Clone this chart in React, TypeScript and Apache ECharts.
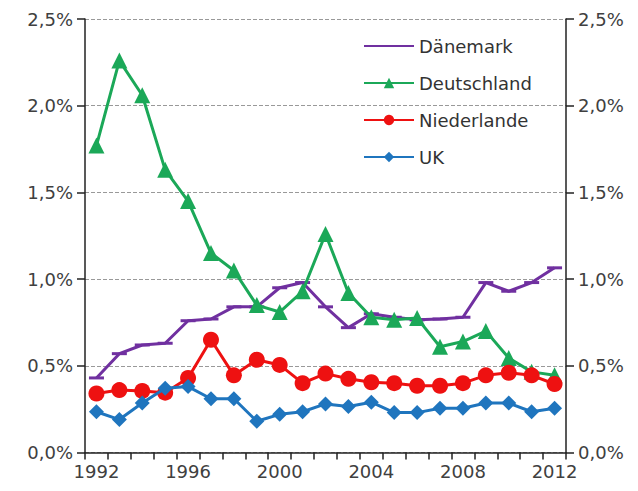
import React, { useEffect, useRef } from "react";
import * as echarts from "echarts";

const years = [
  "1992", "1993", "1994", "1995", "1996", "1997", "1998", "1999", "2000", "2001",
  "2002", "2003", "2004", "2005", "2006", "2007", "2008", "2009", "2010", "2011", "2012",
];
const daenemark = [0.43, 0.57, 0.62, 0.63, 0.76, 0.77, 0.84, 0.84, 0.95, 0.98, 0.84, 0.72, 0.8, 0.78, 0.765, 0.77, 0.78, 0.98, 0.93, 0.98, 1.065];
const deutschland = [1.77, 2.26, 2.06, 1.63, 1.45, 1.15, 1.05, 0.85, 0.81, 0.93, 1.26, 0.92, 0.78, 0.765, 0.775, 0.61, 0.64, 0.7, 0.545, 0.465, 0.445];
const niederlande = [0.34, 0.36, 0.355, 0.345, 0.43, 0.65, 0.445, 0.535, 0.505, 0.4, 0.455, 0.425, 0.405, 0.4, 0.385, 0.385, 0.4, 0.445, 0.46, 0.445, 0.395];
const uk = [0.235, 0.19, 0.285, 0.37, 0.38, 0.31, 0.31, 0.18, 0.22, 0.235, 0.28, 0.265, 0.29, 0.23, 0.23, 0.255, 0.255, 0.285, 0.285, 0.235, 0.255];

const FONT = "DejaVu Sans";
const fmt = (v: number) => v.toFixed(1).replace(".", ",") + "%";

export default function App() {
  const ref = useRef<HTMLDivElement>(null);
  useEffect(() => {
    if (!ref.current) return;
    const chart = echarts.init(ref.current, null, { renderer: "svg" });
    const yAxisBase = {
      type: "value" as const,
      min: 0,
      max: 2.5,
      interval: 0.5,
      axisLine: { show: true, lineStyle: { color: "#222", width: 1.5 } },
      axisTick: { show: true, length: 8, lineStyle: { color: "#222", width: 1.5 } },
      axisLabel: { formatter: fmt, fontFamily: FONT, fontSize: 18, color: "#404040", margin: 12 },
    };
    chart.setOption({
      animation: false,
      backgroundColor: "#fff",
      grid: { left: 85, right: 72, top: 19, bottom: 38.5 },
      legend: {
        orient: "vertical",
        left: 358,
        top: 32,
        itemWidth: 50,
        itemHeight: 13,
        itemGap: 19,
        textStyle: { fontFamily: FONT, fontSize: 18, color: "#333" },
        data: [
          { name: "Dänemark", itemStyle: { opacity: 0 } },
          "Deutschland",
          "Niederlande",
          "UK",
        ],
      },
      xAxis: {
        type: "category",
        data: years,
        boundaryGap: true,
        axisLine: { lineStyle: { color: "#222", width: 1.5 } },
        axisTick: { show: true, interval: 0, length: 7, lineStyle: { color: "#222", width: 1.5 } },
        axisLabel: { interval: 3, fontFamily: FONT, fontSize: 18, color: "#404040", margin: 10 },
      },
      yAxis: [
        {
          ...yAxisBase,
          position: "left",
          splitLine: { show: true, lineStyle: { color: "#999", type: "dashed", width: 1 } },
        },
        {
          ...yAxisBase,
          position: "right",
          splitLine: { show: false },
        },
      ],
      series: [
        {
          name: "Dänemark",
          type: "line",
          data: daenemark,
          color: "#7030A0",
          lineStyle: { width: 3 },
          symbol: "rect",
          symbolSize: [15, 3],
          showAllSymbol: true,
          z: 2,
        },
        {
          name: "Deutschland",
          type: "line",
          data: deutschland,
          color: "#1BA858",
          lineStyle: { width: 3 },
          symbol: "triangle",
          symbolSize: 16,
          showAllSymbol: true,
          z: 3,
        },
        {
          name: "Niederlande",
          type: "line",
          data: niederlande,
          color: "#EE1111",
          lineStyle: { width: 3 },
          symbol: "circle",
          symbolSize: 16,
          showAllSymbol: true,
          z: 4,
        },
        {
          name: "UK",
          type: "line",
          data: uk,
          color: "#1F75BE",
          lineStyle: { width: 3 },
          symbol: "diamond",
          symbolSize: 15,
          showAllSymbol: true,
          z: 5,
        },
      ],
    });
    return () => chart.dispose();
  }, []);
  return <div ref={ref} style={{ width: 638, height: 491, position: "absolute", left: 0, top: 0 }} />;
}
